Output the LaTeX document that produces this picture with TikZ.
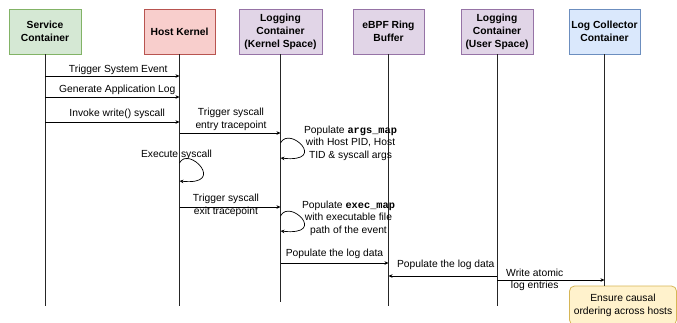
\documentclass[tikz,border=0pt]{standalone}
\usepackage{fontspec}
\setmainfont{Liberation Sans}
\setmonofont{Liberation Mono}
\usepackage{tikz}
\usetikzlibrary{arrows.meta,positioning,calc}
\definecolor{svcfill}{HTML}{D5E8D4}
\definecolor{svcline}{HTML}{82B366}
\definecolor{kernfill}{HTML}{F8CECC}
\definecolor{kernline}{HTML}{B85450}
\definecolor{logfill}{HTML}{E1D5E7}
\definecolor{logline}{HTML}{9673A6}
\definecolor{collfill}{HTML}{DAE8FC}
\definecolor{collline}{HTML}{6C8EBF}
\definecolor{notefill}{HTML}{FFF2CC}
\definecolor{noteline}{HTML}{D6B656}
\newcommand{\mapname}[1]{{\ttfamily\bfseries #1}}

\begin{document}
\begin{tikzpicture}[x=1pt,y=-1pt,>={Stealth[length=4pt,width=3.6pt]},
  font=\fontsize{10.3}{12.6}\selectfont,
  actor/.style={draw,line width=0.8pt,minimum height=45pt,align=center,inner sep=1pt,
    font=\fontsize{10.3}{12.9}\selectfont\bfseries},
  life/.style={line width=0.8pt,black!85},
  msg/.style={->,line width=0.7pt},
  lbl/.style={align=center,inner sep=0pt}]
  \useasboundingbox (0,0) rectangle (677,322);
  % participants
  \node[actor,fill=svcfill,draw=svcline,minimum width=72pt] (svc) at (45,31.5) {Service\\Container};
  \node[actor,fill=kernfill,draw=kernline,minimum width=71pt] (kern) at (179.5,31.5) {Host Kernel};
  \node[actor,fill=logfill,draw=logline,minimum width=83pt] (lks) at (280.5,31.5) {Logging\\Container\\(Kernel Space)};
  \node[actor,fill=logfill,draw=logline,minimum width=71pt] (ring) at (388.5,31.5) {eBPF Ring\\Buffer};
  \node[actor,fill=logfill,draw=logline,minimum width=72pt] (lus) at (497,31.5) {Logging\\Container\\(User Space)};
  \node[actor,fill=collfill,draw=collline,minimum width=71pt] (coll) at (604.5,31.5) {Log Collector\\Container};
  \node[lbl,draw=noteline,fill=notefill,line width=0.8pt,rounded corners=5pt,minimum width=107pt,
    minimum height=39pt] (ens) at (623,305.5) {Ensure causal\\ordering across hosts};
  % lifelines
  \foreach \n/\e in {svc/306,kern/306,lks/302,ring/306,lus/306}
    \draw[life] (\n.south) -- (\n.south |- 0,\e);
  \draw[life] (coll.south) -- (coll.south |- ens.north);
  % messages
  \foreach \s/\e/\y/\dx/\dy/\t in {
    svc/kern/76/6/6/{Trigger System Event},
    svc/kern/97/5/7/{Generate Application Log},
    svc/kern/122/5/8/{Invoke write() syscall},
    kern/lks/133/1/13.5/{Trigger syscall\\entry tracepoint},
    kern/lks/207/-4/1.5/{Trigger syscall\\exit tracepoint},
    lks/ring/263/0/9/{Populate the log data},
    lus/ring/276/3/11/{Populate the log data},
    lus/coll/280/-16/0/{Write atomic\\log entries}}
    \draw[msg] (\s.south |- 0,\y) -- (\e.south |- 0,\y)
      node[lbl,midway,xshift=\dx pt,yshift=\dy pt] {\t};
  % self calls
  \foreach \n/\a/\b/\dx/\dy/\t in {
    kern/163/181/-3/8/{Execute syscall},
    lks/143/158/70/0/{Populate \mapname{args\_map}\\with Host PID, Host\\TID \& syscall args},
    lks/216/231/68/-2/{Populate \mapname{exec\_map}\\with executable file\\path of the event}}
    \draw[msg] (\n.south |- 0,\a) .. controls +(9,-18) and +(48,5) .. (\n.south |- 0,\b)
      node[lbl,pos=0,xshift=\dx pt,yshift=\dy pt] {\t};
\end{tikzpicture}
\end{document}
